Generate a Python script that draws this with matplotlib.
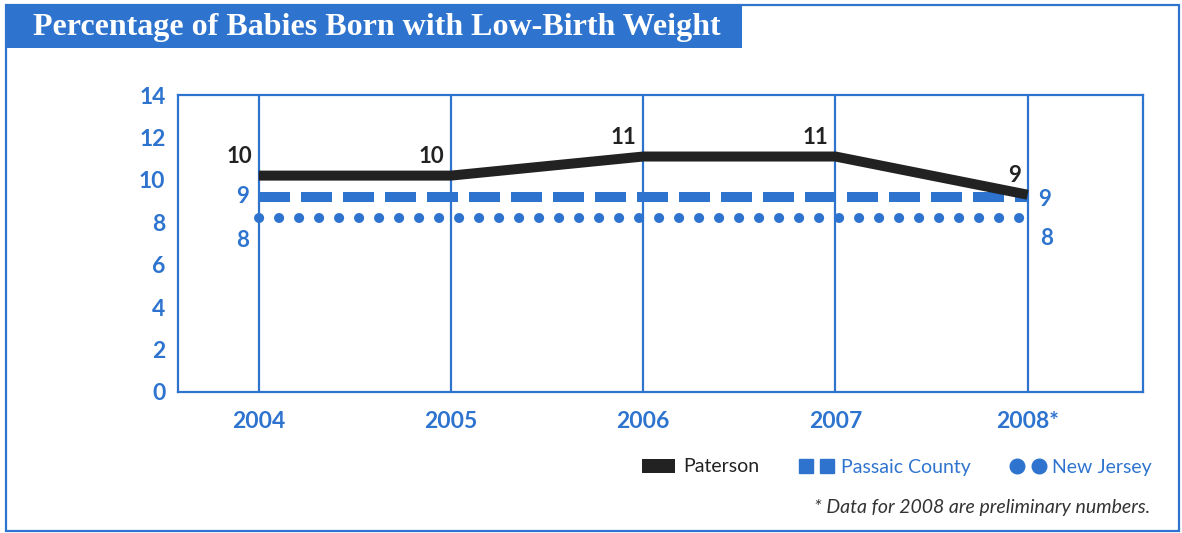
import matplotlib.pyplot as plt
import numpy as np
from matplotlib.patches import Rectangle, Patch
from matplotlib.lines import Line2D

# data
years = ['2004', '2005', '2006', '2007', '2008*']
paterson = [10.2, 10.2, 11.1, 11.1, 9.3]
passaic = [9.2, 9.2, 9.2, 9.2, 9.2]
new_jersey = [8.2, 8.2, 8.2, 8.2, 8.2]
yticks = [0, 2, 4, 6, 8, 10, 12, 14]

BLUE = '#2e74cf'
BLACK = '#222222'
plt.rcParams['font.family'] = ['Lato', 'DejaVu Sans']

W, H = 1182, 533
fig = plt.figure(figsize=(W / 100, H / 100), dpi=100)

# outer frame and title box
fig.add_artist(Rectangle((6 / W, 2 / H), 1173 / W, 526 / H, transform=fig.transFigure,
                         fill=False, edgecolor=BLUE, lw=1.6))
fig.add_artist(Rectangle((6 / W, 1 - 48 / H), 736 / W, 43 / H, transform=fig.transFigure,
                         facecolor=BLUE, edgecolor='none'))
fig.text(33 / W, 1 - 27 / H, 'Percentage of Babies Born with Low-Birth Weight', color='white',
         family='Liberation Serif', weight='bold', fontsize=23, va='center', ha='left')

ax = fig.add_axes([178 / W, 1 - 392 / H, (1143 - 178) / W, (392 - 95) / H])
x = np.arange(len(years))

ax.plot(x, paterson, color=BLACK, lw=7.2, solid_capstyle='butt', solid_joinstyle='round', zorder=5)
ax.plot(x, passaic, color=BLUE, lw=7.2, dashes=(3.1, 1.1), dash_capstyle='butt', zorder=4)
ax.plot(x, new_jersey, color=BLUE, lw=7.2, dashes=(0.02, 1.98), dash_capstyle='round', zorder=4)

ax.set_xlim(-0.42, 4.6)
ax.set_ylim(0, 14)
ax.set_xticks(x)
ax.set_xticklabels(years)
ax.set_yticks(yticks)
ax.tick_params(length=0, labelcolor=BLUE, labelsize=16.5)
ax.tick_params(axis='y', pad=9)
ax.tick_params(axis='x', pad=14)
for lab in ax.get_xticklabels() + ax.get_yticklabels():
    lab.set_fontweight('bold')
for sp in ax.spines.values():
    sp.set_color(BLUE)
    sp.set_linewidth(1.6)
ax.grid(axis='x', color=BLUE, lw=1.6)
ax.set_axisbelow(True)

# value labels
lab_kw = dict(textcoords='offset pixels', fontsize=16, fontweight='bold')
for i, v in enumerate(paterson):
    ax.annotate(f'{v:.0f}', (i, v), xytext=(-7, 19), ha='right', va='center', color=BLACK, **lab_kw)
last = len(years) - 1
ax.annotate(f'{passaic[0]:.0f}', (0, passaic[0]), xytext=(-10, 0), ha='right', va='center', color=BLUE, **lab_kw)
ax.annotate(f'{passaic[last]:.0f}', (last, passaic[last]), xytext=(10, -3), ha='left', va='center', color=BLUE, **lab_kw)
ax.annotate(f'{new_jersey[0]:.0f}', (0, new_jersey[0]), xytext=(-10, -22), ha='right', va='center', color=BLUE, **lab_kw)
ax.annotate(f'{new_jersey[last]:.0f}', (last, new_jersey[last]), xytext=(12, -20), ha='left', va='center', color=BLUE, **lab_kw)

# legend
handles = [Patch(facecolor=BLACK, edgecolor='none'),
           Line2D([], [], ls='none', marker='s', markersize=10, color=BLUE),
           Line2D([], [], ls='none', marker='o', markersize=10.5, color=BLUE)]
leg = fig.legend(handles, ['Paterson', 'Passaic County', 'New Jersey'], ncol=3, frameon=False,
                 loc='center right', bbox_to_anchor=(1152 / W, 1 - 467 / H), numpoints=2,
                 fontsize=14, handlelength=1.7, handleheight=0.75, handletextpad=0.4,
                 columnspacing=2.1, borderpad=0, borderaxespad=0)
for t, c in zip(leg.get_texts(), [BLACK, BLUE, BLUE]):
    t.set_color(c)

fig.text(1150 / W, 1 - 508 / H, '* Data for 2008 are preliminary numbers.', style='italic',
         fontsize=14, color='#333333', ha='right', va='center')

fig.savefig('out.png', dpi=100)
